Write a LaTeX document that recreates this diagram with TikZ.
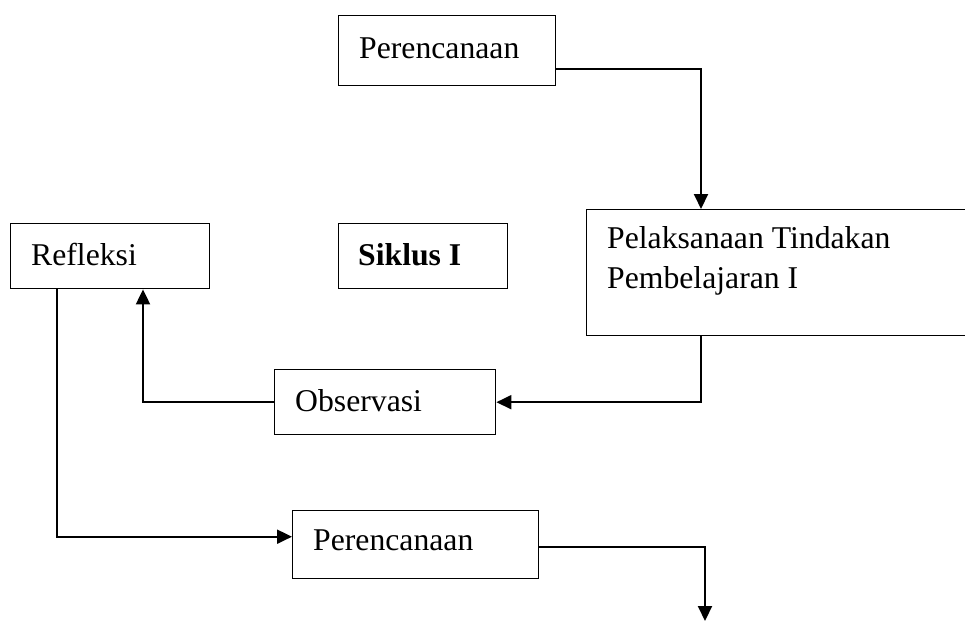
\documentclass[tikz,border=0pt]{standalone}
\usepackage{fontspec}
\setmainfont{Liberation Serif}
\usetikzlibrary{arrows.meta}
\begin{document}
\begin{tikzpicture}[x=1pt,y=-1pt,
  box/.style={draw, line width=1.4pt, inner sep=0pt, anchor=north west},
  txt/.style={inner sep=0pt, anchor=west, align=left, font=\fontsize{31.7}{40}\selectfont},
  conn/.style={line width=2pt, -{Triangle[length=15pt,width=14pt]}}]
\useasboundingbox (0,0) rectangle (965,621);
% boxes
\node[box, minimum width=217pt, minimum height=70pt] (p1) at (338,15) {};
\node[txt] (p1t) at (359,48) {Perencanaan};
\node[box, minimum width=199pt, minimum height=65pt] (refl) at (10,223) {};
\node[txt] (reflt) at (31,254) {Refleksi};
\node[box, minimum width=169pt, minimum height=65pt] (sik) at (338,223) {};
\node[txt] (sikt) at (358,255) {\bfseries Siklus I};
\node[box, minimum width=386pt, minimum height=126pt] (pel) at (586,209) {};
\node[txt] (pelt) at (607,261) {Pelaksanaan Tindakan\\Pembelajaran I};
\node[box, minimum width=221pt, minimum height=65pt] (obs) at (274,369) {};
\node[txt] (obst) at (295,401) {Observasi};
\node[box, minimum width=246pt, minimum height=68pt] (p2) at (292,510) {};
\node[txt] (p2t) at (313,540) {Perencanaan};
\coordinate (end) at (705,621);
% connectors
\draw[conn] ([yshift=-18pt]p1.east) -| ([xshift=115pt]pel.north west);
\draw[conn] ([xshift=115pt]pel.south west) |- (obs.east);
\draw[conn] (obs.west) -| ([xshift=133pt]refl.south west);
\draw[conn] ([xshift=47pt]refl.south west) |- ([yshift=8pt]p2.west);
\draw[conn] ([yshift=-2pt]p2.east) -| (end);
\end{tikzpicture}
\end{document}
